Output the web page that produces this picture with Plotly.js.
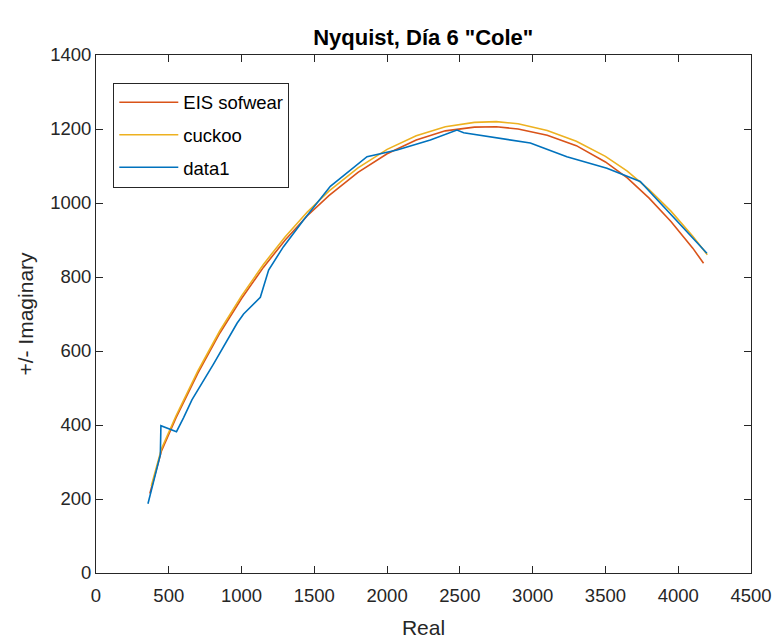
<!DOCTYPE html>
<html>
<head>
<meta charset="utf-8">
<script src="https://cdn.plot.ly/plotly-3.0.1.min.js"></script>
<style>html,body{margin:0;padding:0;background:#fff;}#chart{width:778px;height:639px;}</style>
</head>
<body>
<div id="chart"></div>
<script>
// EIS sofwear (red)
const eisX = [370, 450, 550, 700, 850, 1000, 1150, 1300, 1450, 1600, 1800, 2000, 2200, 2400, 2600, 2750, 2900, 3100, 3300, 3500, 3650, 3800, 3950, 4100, 4174];
const eisY = [215, 330, 420, 540, 648, 742, 826, 900, 965, 1020, 1083, 1133, 1170, 1195, 1205, 1206, 1200, 1183, 1155, 1111, 1068, 1013, 950, 878, 837];
// cuckoo (yellow)
const cuckooX = [380, 450, 550, 700, 850, 1000, 1150, 1300, 1450, 1600, 1800, 2000, 2200, 2400, 2600, 2750, 2900, 3100, 3300, 3500, 3650, 3800, 3950, 4100, 4200];
const cuckooY = [235, 336, 425, 546, 654, 749, 834, 909, 975, 1032, 1095, 1145, 1182, 1206, 1218, 1220, 1214, 1196, 1167, 1126, 1086, 1036, 978, 910, 860];
// data1 (blue)
const dataX = [357, 396, 420, 442, 446, 553, 602, 659, 808, 923, 969, 1014, 1083, 1129, 1186, 1288, 1426, 1610, 1862, 2068, 2297, 2480, 2526, 2755, 2984, 3052, 3235, 3510, 3739, 4197];
const dataY = [187, 252, 290, 320, 398, 382, 420, 468, 565, 645, 675, 700, 727, 745, 819, 882, 954, 1045, 1125, 1143, 1170, 1197, 1190, 1175, 1162, 1152, 1125, 1094, 1058, 864];

const names = ['EIS sofwear', 'cuckoo', 'data1'];
const colors = ['#D95319', '#EDB120', '#0072BD'];

const traces = [
  {x: eisX, y: eisY, name: names[0], legendgroup: 'a', mode: 'lines', line: {color: colors[0], width: 1.6}},
  {x: cuckooX, y: cuckooY, name: names[1], legendgroup: 'b', mode: 'lines', line: {color: colors[1], width: 1.6}},
  {x: dataX, y: dataY, name: names[2], legendgroup: 'c', mode: 'lines', line: {color: colors[2], width: 1.6}}
];

const axCol = '#262626';
const layout = {
  width: 778, height: 639, autosize: false,
  paper_bgcolor: '#ffffff', plot_bgcolor: '#ffffff',
  margin: {l: 96, r: 27, t: 55, b: 66, pad: 0},
  font: {family: '"Liberation Sans", Arial, sans-serif', color: axCol, size: 18.5},
  title: {text: '<b>Nyquist, Día 6 "Cole"</b>', font: {size: 22, color: '#000000'}, x: 0.544, xanchor: 'center', y: 0.942, yanchor: 'middle', yref: 'container'},
  xaxis: {
    range: [0, 4500], tick0: 0, dtick: 500, ticks: 'inside', ticklen: 7, tickcolor: axCol,
    showline: true, linecolor: axCol, linewidth: 1, mirror: 'ticks', showgrid: false, zeroline: false,
    tickfont: {size: 18.5, color: axCol}, ticklabelstandoff: 6,
    title: {text: 'Real', font: {size: 21, color: axCol}, standoff: 17}
  },
  yaxis: {
    range: [0, 1400], tick0: 0, dtick: 200, ticks: 'inside', ticklen: 7, tickcolor: axCol,
    showline: true, linecolor: axCol, linewidth: 1, mirror: 'ticks', showgrid: false, zeroline: false,
    tickfont: {size: 18.5, color: axCol},
    title: {text: '+/- Imaginary', font: {size: 21, color: axCol}, standoff: 10}
  },
  showlegend: true,
  legend: {
    x: 0.0264, y: 0.9466, xanchor: 'left', yanchor: 'top',
    bgcolor: '#ffffff', bordercolor: axCol, borderwidth: 1,
    font: {size: 18.5, color: '#000000'},
    traceorder: 'grouped', tracegroupgap: 5.5, itemwidth: 59
  }
};

Plotly.newPlot('chart', traces, layout, {displayModeBar: false, staticPlot: true});
</script>
</body>
</html>
